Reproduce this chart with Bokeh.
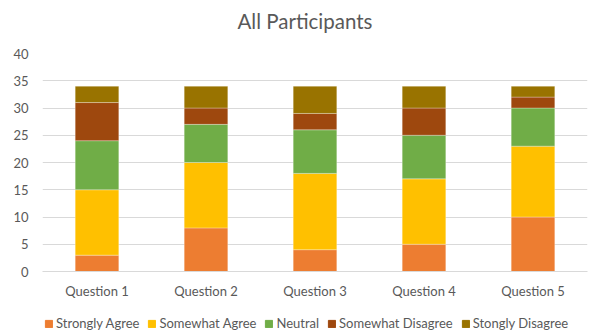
from bokeh.plotting import figure
from bokeh.layouts import column
from bokeh.models import ColumnDataSource, Legend, LegendItem, Label, FactorRange, SingleIntervalTicker
from bokeh.embed import file_html
from bokeh.resources import INLINE

questions = ["Question 1", "Question 2", "Question 3", "Question 4", "Question 5"]
responses = ["Strongly Agree", "Somewhat Agree", "Neutral", "Somewhat Disagree", "Stongly Disagree"]
strongly_agree = [3, 8, 4, 5, 10]
somewhat_agree = [12, 12, 14, 12, 13]
neutral = [9, 7, 8, 8, 7]
somewhat_disagree = [7, 3, 3, 5, 2]
stongly_disagree = [3, 4, 5, 4, 2]
colors = ["#ED7D31", "#FFC000", "#70AD47", "#9E480E", "#997300"]

source = ColumnDataSource(dict(
    q=questions,
    **{
        responses[0]: strongly_agree,
        responses[1]: somewhat_agree,
        responses[2]: neutral,
        responses[3]: somewhat_disagree,
        responses[4]: stongly_disagree,
    }
))

FONT = "Lato"
TEXT = "#595959"


def bare(fig):
    """Strip axes, grids and outline from a helper figure."""
    fig.axis.visible = False
    fig.grid.visible = False
    fig.outline_line_color = None
    fig.border_fill_color = "white"
    fig.background_fill_color = "white"
    return fig


# --- title strip (its frame lines up with the chart frame below) ---
head = bare(figure(width=592, height=40, x_range=(0, 1), y_range=(0, 1),
                   output_backend="svg", toolbar_location=None, min_border=0))
head.add_layout(Label(x=262.5, y=20, x_units="screen", y_units="screen",
                      text="All Participants", text_font=FONT, text_font_size="20.5px",
                      text_color=TEXT, text_align="center", text_baseline="middle"))

# --- stacked bar chart ---
p = figure(
    frame_width=545, frame_height=218,
    x_range=FactorRange(*questions, range_padding=0),
    y_range=(0, 40),
    output_backend="svg", toolbar_location=None,
    min_border_left=42, min_border_right=5, min_border_top=13, min_border_bottom=29,
)
p.outline_line_color = None
p.background_fill_color = "white"
p.border_fill_color = "white"

p.vbar_stack(responses, x="q", width=0.4, source=source,
             color=colors, line_color="white", line_width=0.5, line_alpha=0.6)

p.yaxis.ticker = SingleIntervalTicker(interval=5)
for ax in (p.xaxis[0], p.yaxis[0]):
    ax.major_tick_line_color = None
    ax.minor_tick_line_color = None
    ax.major_label_text_color = TEXT
    ax.major_label_text_font = FONT
    ax.major_label_text_font_size = "13px"
p.yaxis.axis_line_color = None
p.yaxis.major_label_standoff = 8
p.xaxis.axis_line_color = "#D9D9D9"
p.xaxis.major_label_standoff = 5
p.xgrid.grid_line_color = None
p.ygrid.grid_line_color = "#D9D9D9"
p.ygrid.ticker = SingleIntervalTicker(interval=5)

# --- legend strip: same stacks, kept outside its visible y range ---
leg = bare(figure(width=592, height=31, x_range=FactorRange(*questions), y_range=(100, 101),
                  output_backend="svg", toolbar_location=None, min_border=0))
leg_renderers = leg.vbar_stack(responses, x="q", width=0.4, source=source, color=colors)
legend = Legend(items=[LegendItem(label=r, renderers=[rr]) for r, rr in zip(responses, leg_renderers)],
                orientation="horizontal", location=(2, 1),
                label_text_font=FONT, label_text_font_size="13px", label_text_color=TEXT,
                glyph_width=9, glyph_height=9, spacing=8, label_standoff=3,
                border_line_color=None, background_fill_alpha=0, padding=0, margin=0)
leg.add_layout(legend, "center")

layout = column(head, p, leg, spacing=0)
open("out.html", "w").write(file_html(layout, INLINE))
